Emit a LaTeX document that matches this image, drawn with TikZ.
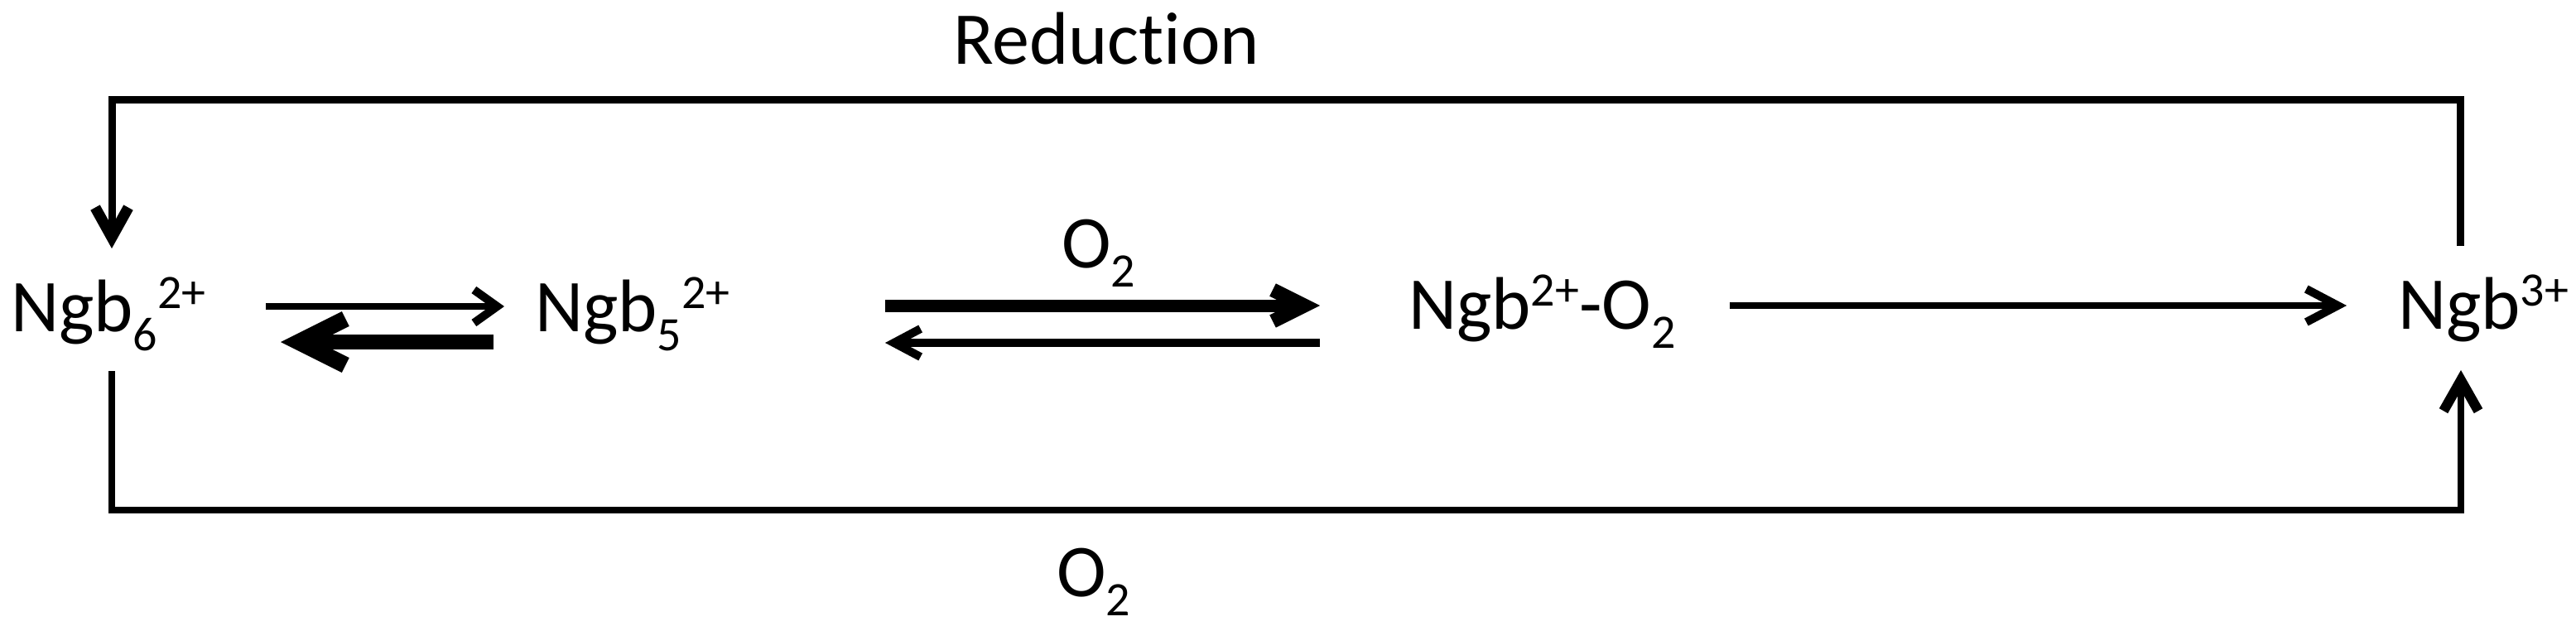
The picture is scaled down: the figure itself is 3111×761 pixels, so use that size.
\documentclass[tikz,border=0pt]{standalone}
\usepackage{fontspec}
\setmainfont{Carlito}[Ligatures=NoCommon]
\usetikzlibrary{arrows.meta}
\newcommand\mysub[1]{\raisebox{-23pt}{\fontsize{58}{60}\selectfont #1}}
\newcommand\mysup[1]{\raisebox{28pt}{\fontsize{58}{60}\selectfont #1}}
\begin{document}
\begin{tikzpicture}[x=1pt,y=-1pt,
  lbl/.style={inner sep=0pt, outer sep=0pt, anchor=base west, font=\fontsize{90}{100}\selectfont},
  barb/.style n args={3}{-{Straight Barb[length=#1pt,width=#2pt,line width=#3pt,line join=miter,line cap=butt]}},
  conn/.style={line width=#1pt, line cap=butt, line join=miter}]
\useasboundingbox[fill=white] (0,0) rectangle (3111,761);
% species
\node[lbl] (ngb6) at (13,400) {Ngb\mysub{6}\mysup{2+}};
\node[lbl] (ngb5) at (646,400) {Ngb\mysub{5}\mysup{2+}};
\node[lbl] (ngbo) at (1701,397) {Ngb\mysup{2+}-O\mysub{2}};
\node[lbl] (ngb3) at (2896,397) {Ngb\mysup{3+}};
% labels
\node[lbl] (red) at (1151,77) {Reduction};
\node[lbl] (o2top) at (1282,323) {O\mysub{2}};
\node[lbl] (o2bot) at (1276,720) {O\mysub{2}};
% arrow end points
\coordinate (a1s) at (321,370);  \coordinate (a1e) at (609,370);
\coordinate (a2s) at (596,413);  \coordinate (a2e) at (339,413);
\coordinate (a3s) at (1069,369); \coordinate (a3e) at (1594,369);
\coordinate (a4s) at (1594,414); \coordinate (a4e) at (1069,414);
\coordinate (a5s) at (2089,369); \coordinate (a5e) at (2834,369);
\coordinate (rtop) at (2971,297); \coordinate (ltip) at (135,300);
\coordinate (lbot) at (135,448);  \coordinate (rtip) at (2972,447);
% equilibria
\draw[conn=8, barb={28}{40}{10}] (a1s) -- (a1e);
\draw[conn=18, barb={56}{56}{20}] (a2s) -- (a2e);
\draw[conn=15, barb={38}{38}{17}] (a3s) -- (a3e);
\draw[conn=10, barb={32}{34}{10}] (a4s) -- (a4e);
\draw[conn=8, barb={38}{40}{10}] (a5s) -- (a5e);
% loops
\draw[conn=9, barb={36}{40}{13}] (rtop) -- ++(0,-177) -| (ltip);
\draw[conn=8, barb={37}{42}{12}] (lbot) -- ++(0,168) -| (rtip);
\end{tikzpicture}
\end{document}
